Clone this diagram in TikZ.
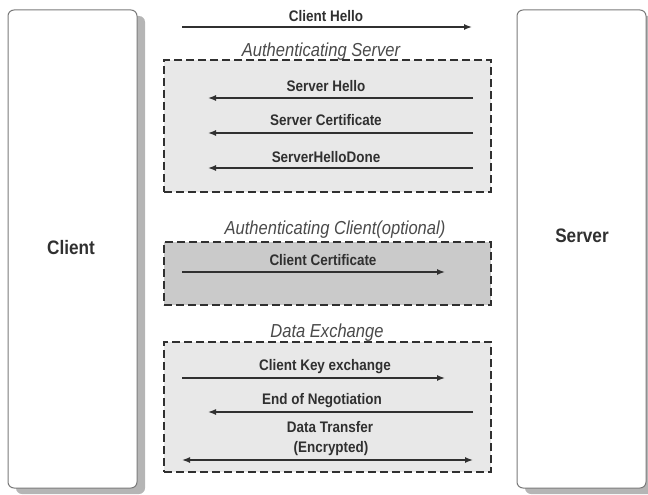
\documentclass[tikz,border=0pt]{standalone}
\usepackage{fontspec}
\setmainfont{Liberation Sans}
\newfontfamily\narrowsans[FakeStretch=0.88]{Liberation Sans}
\usetikzlibrary{arrows.meta,shadows}
\definecolor{txt}{HTML}{303030}
\definecolor{hdrc}{HTML}{4A4A4A}
\definecolor{lightbox}{HTML}{E8E8E8}
\definecolor{darkbox}{HTML}{CACACA}
\definecolor{shadowc}{HTML}{B5B5B5}
\definecolor{edgec}{HTML}{7A7A7A}
\begin{document}
\begin{tikzpicture}[x=1pt,y=-1pt,
  party/.style={draw=edgec, line width=1pt, fill=white, rounded corners=6pt,
    minimum width=129pt, minimum height=478pt, inner sep=0pt,
    drop shadow={shadow xshift=8pt, shadow yshift=-6pt, fill=shadowc, opacity=1}},
  plabel/.style={font=\narrowsans\fontsize{19.5}{21}\selectfont\bfseries, text=txt, inner sep=0pt},
  phase/.style={draw=txt, line width=2.3pt, dash pattern=on 8pt off 4pt,
    minimum width=327pt, inner sep=0pt},
  msg/.style={font=\narrowsans\fontsize{15.3}{17}\selectfont\bfseries, text=txt, inner sep=0pt, align=center},
  hdr/.style={font=\narrowsans\fontsize{18.8}{20}\selectfont\itshape, text=hdrc, inner sep=0pt, anchor=base},
  flow/.style={draw=txt, line width=1.4pt, -{Latex[length=8pt,width=6pt]}},
  bothflow/.style={draw=txt, line width=1.4pt, {Latex[length=8pt,width=6pt]}-{Latex[length=8pt,width=6pt]}},
]
\useasboundingbox (0,0) rectangle (648,495);

% parties
\node[party] (client) at (72.5,249) {};
\node[party] (server) at (581.5,249) {};
\node[plabel] (clientlbl) at (71,248) {Client};
\node[plabel] (serverlbl) at (582,236) {Server};

% phase boxes
\node[phase, fill=lightbox, minimum height=132pt] (authsrv) at (327.5,126) {};
\node[phase, fill=darkbox, minimum height=63pt] (authcli) at (327.5,273.5) {};
\node[phase, fill=lightbox, minimum height=130pt] (dataex) at (327.5,407) {};

% headers
\node[hdr] (h1) at (321,57) {Authenticating Server};
\node[hdr] (h2) at (335,234) {Authenticating Client(optional)};
\node[hdr] (h3) at (327,337) {Data Exchange};

% messages
\node[msg] (m1) at (326,16) {Client Hello};
\coordinate (m1a) at (182,27); \coordinate (m1b) at (472,27);
\draw[flow] (m1a) -- (m1b);

\node[msg] (m2) at (326,86) {Server Hello};
\coordinate (m2a) at (473,98); \coordinate (m2b) at (208,98);
\draw[flow] (m2a) -- (m2b);

\node[msg] (m3) at (326,120) {Server Certificate};
\coordinate (m3a) at (473,133); \coordinate (m3b) at (208,133);
\draw[flow] (m3a) -- (m3b);

\node[msg] (m4) at (326,157) {ServerHelloDone};
\coordinate (m4a) at (473,168); \coordinate (m4b) at (208,168);
\draw[flow] (m4a) -- (m4b);

\node[msg] (m5) at (323,260) {Client Certificate};
\coordinate (m5a) at (182,272); \coordinate (m5b) at (445,272);
\draw[flow] (m5a) -- (m5b);

\node[msg] (m6) at (325,367) {Client Key exchange};
\coordinate (m6a) at (182,378); \coordinate (m6b) at (445,378);
\draw[flow] (m6a) -- (m6b);

\node[msg] (m7) at (322,401) {End of Negotiation};
\coordinate (m7a) at (473,412); \coordinate (m7b) at (208,412);
\draw[flow] (m7a) -- (m7b);

\node[msg] (m8) at (330,427) {Data Transfer};
\node[msg] (m9) at (331,449) {(Encrypted)};
\coordinate (m8a) at (182,460); \coordinate (m8b) at (473,460);
\draw[bothflow] (m8a) -- (m8b);
\end{tikzpicture}
\end{document}
